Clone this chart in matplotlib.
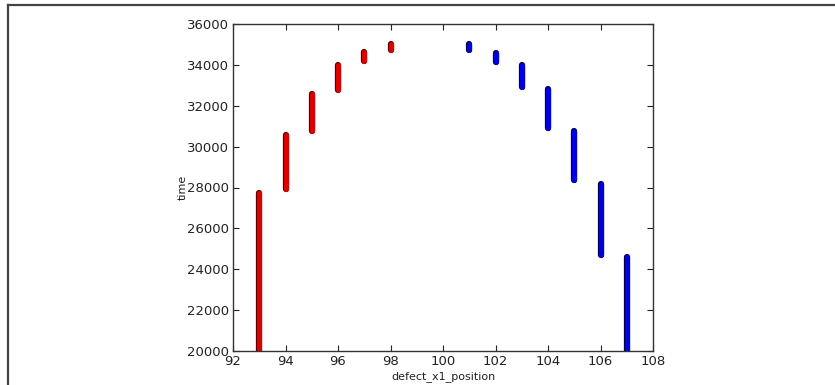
import matplotlib
matplotlib.use("Agg")
import matplotlib.pyplot as plt
import matplotlib.patheffects as pe
from matplotlib.lines import Line2D

# Data: each x position holds a continuous run of time values (start, end)
red_x = [93, 94, 95, 96, 97, 98]
red_t_low = [19800, 27925, 30750, 32755, 34170, 34745]
red_t_high = [27750, 30590, 32590, 34005, 34610, 35020]

blue_x = [101, 102, 103, 104, 105, 106, 107]
blue_t_low = [34725, 34155, 32920, 30930, 28390, 24710, 19800]
blue_t_high = [35005, 34575, 34005, 32800, 30765, 28170, 24595]

x_ticks = [92, 94, 96, 98, 100, 102, 104, 106, 108]
y_ticks = [20000, 22000, 24000, 26000, 28000, 30000, 32000, 34000, 36000]

fig = plt.figure(figsize=(8.35, 3.85), dpi=100)
ax = fig.add_axes([233/835, 1-351/385, (653-233)/835, (351-24)/385])

for xs, lo, hi, col, edge in [(red_x, red_t_low, red_t_high, "#dd0000", "#500000"),
                              (blue_x, blue_t_low, blue_t_high, "#0000e0", "#000040")]:
    lc = ax.vlines(xs, lo, hi, colors=col, linewidth=3.7)
    lc.set_capstyle("round")
    lc.set_path_effects([pe.Stroke(linewidth=4.5, foreground=edge), pe.Normal()])

ax.set_xlim(92, 108)
ax.set_ylim(20000, 36000)
ax.set_xticks(x_ticks)
ax.set_yticks(y_ticks)
ax.tick_params(direction="in", top=True, right=True, length=4, width=0.8,
               labelsize=9.5, pad=3, colors="#222222")
for s in ax.spines.values():
    s.set_linewidth(1.0)
    s.set_color("#333333")
ax.set_xlabel("defect_x1_position", fontsize=8, labelpad=2, color="#222222")
ax.set_ylabel("time", fontsize=8, labelpad=-1, color="#222222")

# screenshot frame lines
fig.add_artist(Line2D([8/835, 1], [1-5/385, 1-5/385], transform=fig.transFigure,
                      color="#444444", linewidth=1.6))
fig.add_artist(Line2D([8/835, 8/835], [0, 1-5/385], transform=fig.transFigure,
                      color="#444444", linewidth=1.6))

fig.savefig("out.png", dpi=100)
